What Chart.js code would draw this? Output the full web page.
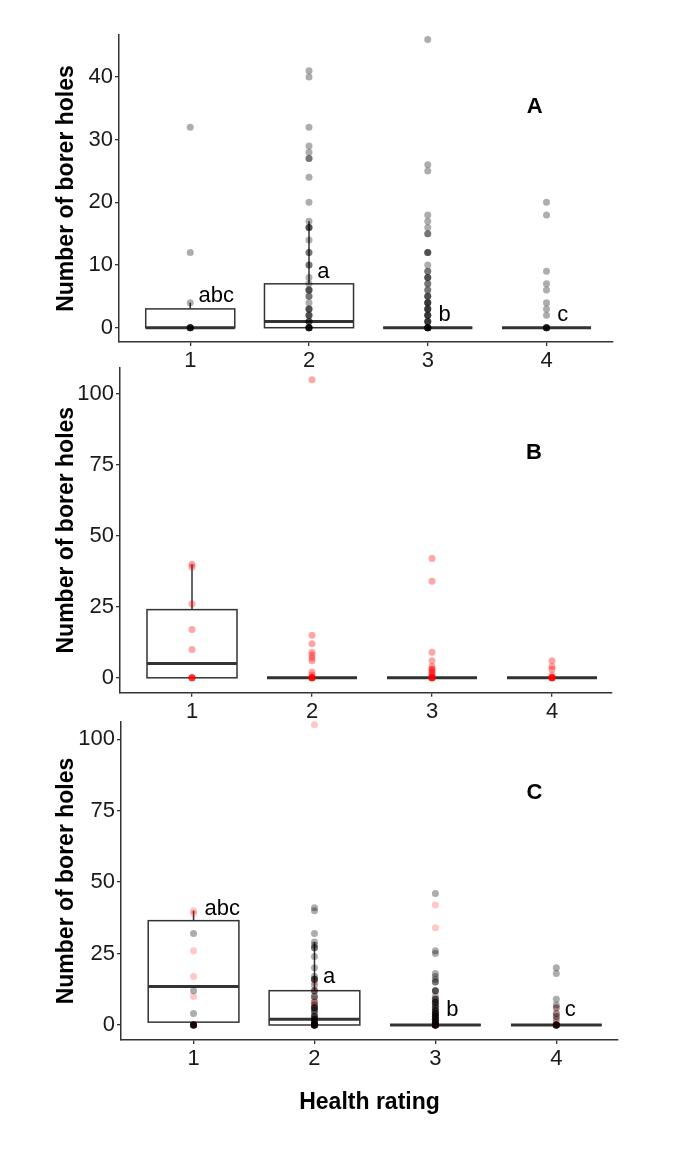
<!DOCTYPE html>
<html>
<head>
<meta charset="utf-8">
<script src="https://cdn.jsdelivr.net/npm/chart.js@4.4.1/dist/chart.umd.min.js"></script>
<style>
html,body{margin:0;padding:0;background:#fff;}
body{width:685px;height:1153px;position:relative;overflow:hidden;}
canvas{position:absolute;left:0;}
</style>
</head>
<body>
<canvas id="cA" width="685" height="380" style="top:0px"></canvas>
<canvas id="cB" width="685" height="380" style="top:340px"></canvas>
<canvas id="cC" width="685" height="453" style="top:700px"></canvas>
<script>
// health rating categories + tick labels
const ratings = [1, 2, 3, 4];
const ticksA = [0, 10, 20, 30, 40];
const ticksBC = [0, 25, 50, 75, 100];

// panel A - borer holes (grey points), one list per rating
const greyR1 = [32, 12, 4, 0, 0, 0, 0, 0, 0];
const greyR2 = [41, 40, 32, 29, 28, 27, 27, 24, 20, 17, 16, 16, 16, 14, 12, 12, 10, 10, 8, 7, 6, 6, 6, 5, 5, 4, 3, 3, 3, 2, 2, 2, 1, 1, 1, 0, 0, 0, 0, 0, 0, 0];
const greyR3 = [46, 26, 25, 18, 17, 16, 15, 15, 12, 12, 12, 10, 9, 9, 8, 8, 8, 7, 7, 6, 6, 5, 5, 5, 4, 4, 4, 4, 3, 3, 3, 3, 2, 2, 2, 2, 1, 1, 1, 1, 0, 0, 0, 0, 0, 0, 0, 0];
const greyR4 = [20, 18, 9, 7, 6, 4, 3, 2, 0, 0, 0, 0, 0, 0];

// panel B - borer holes (red points)
const redR1 = [40, 39, 26, 17, 10, 0, 0, 0, 0];
const redR2 = [105, 15, 12, 9, 8, 7, 6, 2, 1, 0, 0, 0, 0, 0, 0];
const redR3 = [42, 34, 9, 6, 4, 3, 3, 2, 2, 1, 1, 0, 0, 0, 0, 0, 0];
const redR4 = [6, 4, 3, 1, 0, 0, 0, 0, 0, 0];

// box stats per rating: lower whisker, q1, median, q3, upper whisker
const loA = [0, 0, 0, 0], q1A = [0, 0, 0, 0], medA = [0, 1, 0, 0], q3A = [3, 7, 0, 0], hiA = [4, 17, 0, 0];
const loB = [0, 0, 0, 0], q1B = [0, 0, 0, 0], medB = [5, 0, 0, 0], q3B = [24, 0, 0, 0], hiB = [40, 0, 0, 0];
const loC = [0, 0, 0, 0], q1C = [1, 0, 0, 0], medC = [13.5, 2, 0, 0], q3C = [36.5, 12, 0, 0], hiC = [40, 29, 0, 0];

// significance letters
const sigLetters = ["abc", "a", "b", "c"];

const FONT = "'Liberation Sans', Arial, Helvetica, sans-serif";
Chart.defaults.font.family = FONT;
Chart.defaults.animation = false;

function pts(lists) {
  let out = [];
  lists.forEach((l, i) => l.forEach(v => out.push({x: ratings[i], y: v})));
  return out;
}

function boxPlugin(lo, q1, med, q3, hi) {
  return {
    id: 'boxes',
    beforeDatasetsDraw(chart) {
      const ctx = chart.ctx, x = chart.scales.x, y = chart.scales.y;
      ctx.save();
      ctx.strokeStyle = '#333';
      ratings.forEach((r, i) => {
        const xl = x.getPixelForValue(r - 0.375), xr = x.getPixelForValue(r + 0.375), xc = x.getPixelForValue(r);
        ctx.lineWidth = 1.5;
        ctx.beginPath();
        ctx.moveTo(xc, y.getPixelForValue(q3[i])); ctx.lineTo(xc, y.getPixelForValue(hi[i]));
        ctx.moveTo(xc, y.getPixelForValue(q1[i])); ctx.lineTo(xc, y.getPixelForValue(lo[i]));
        ctx.stroke();
        const yt = y.getPixelForValue(q3[i]), yb = y.getPixelForValue(q1[i]);
        ctx.fillStyle = '#fff';
        ctx.fillRect(xl, yt, xr - xl, yb - yt);
        ctx.strokeRect(xl, yt, xr - xl, yb - yt);
        ctx.lineWidth = 3;
        ctx.beginPath();
        const ym = y.getPixelForValue(med[i]);
        ctx.moveTo(xl, ym); ctx.lineTo(xr, ym);
        ctx.stroke();
      });
      ctx.restore();
    }
  };
}

function textPlugin(items) {
  return {
    id: 'texts',
    afterDatasetsDraw(chart) {
      const ctx = chart.ctx, x = chart.scales.x, y = chart.scales.y;
      ctx.save();
      ctx.fillStyle = '#000';
      ctx.textBaseline = 'middle';
      items.forEach(it => {
        ctx.font = (it.bold ? 'bold ' : '') + '22px ' + FONT;
        ctx.textAlign = it.align || 'left';
        ctx.fillText(it.t, x.getPixelForValue(it.x), y.getPixelForValue(it.y));
      });
      ctx.restore();
    }
  };
}

function panel(id, cfg) {
  const axisCol = '#333';
  return new Chart(document.getElementById(id), {
    type: 'scatter',
    data: {datasets: cfg.datasets},
    options: {
      responsive: false,
      events: [],
      layout: {padding: cfg.pad},
      plugins: {legend: {display: false}, tooltip: {enabled: false}},
      scales: {
        x: {
          type: 'linear', min: cfg.xMin, max: cfg.xMax,
          afterBuildTicks: s => { s.ticks = ratings.map(v => ({value: v})); },
          afterFit: s => { s.height = cfg.xH; },
          grid: {drawOnChartArea: false, tickLength: 4, color: axisCol, lineWidth: 1.3},
          border: {color: axisCol, width: 1.5},
          ticks: {padding: 2, color: '#1a1a1a', font: {size: 22}, callback: v => String(v)},
          title: {display: !!cfg.xTitle, text: cfg.xTitle || '', color: '#000', font: {size: 23, weight: 'bold'}, padding: 0}
        },
        y: {
          min: cfg.yMin, max: cfg.yMax,
          afterBuildTicks: s => { s.ticks = cfg.yTicks.map(v => ({value: v})); },
          afterFit: s => { s.width = cfg.yW; },
          grid: {drawOnChartArea: false, tickLength: 4, color: axisCol, lineWidth: 1.3},
          border: {color: axisCol, width: 1.5},
          ticks: {padding: 2, color: '#1a1a1a', font: {size: 22}, callback: v => String(v)},
          title: {display: true, text: 'Number of borer holes', color: '#000', font: {size: 23, weight: 'bold'}, padding: 0}
        }
      }
    },
    plugins: [boxPlugin(cfg.lo, cfg.q1, cfg.med, cfg.q3, cfg.hi), textPlugin(cfg.texts)]
  });
}

function ds(data, color, order) {
  return {data: data, backgroundColor: color, pointRadius: 3.5, pointHoverRadius: 3.5, pointBorderWidth: 0, clip: false, order: order};
}

const grey = 'rgba(0,0,0,0.32)', red = 'rgba(255,0,0,0.35)', pink = 'rgba(255,0,0,0.22)';

panel('cA', {
  datasets: [ds(pts([greyR1, greyR2, greyR3, greyR4]), grey, 1)],
  pad: {top: 35, left: 53, right: 72, bottom: 0},
  xMin: 0.4, xMax: 4.56, xH: 38, yW: 66,
  yMin: -2.28, yMax: 46.7, yTicks: ticksA,
  lo: loA, q1: q1A, med: medA, q3: q3A, hi: hiA,
  texts: [
    {t: sigLetters[0], x: 1.07, y: 5.1}, {t: sigLetters[1], x: 2.07, y: 8.85},
    {t: sigLetters[2], x: 3.09, y: 2.0}, {t: sigLetters[3], x: 4.09, y: 2.0},
    {t: 'A', x: 3.9, y: 35.3, bold: true, align: 'center'}
  ]
});

panel('cB', {
  datasets: [ds(pts([redR1, redR2, redR3, redR4]), red, 1)],
  pad: {top: 27.7, left: 53, right: 73, bottom: 0},
  xMin: 0.4, xMax: 4.5, xH: 27.3, yW: 67,
  yMin: -5.25, yMax: 109.2, yTicks: ticksBC,
  lo: loB, q1: q1B, med: medB, q3: q3B, hi: hiB,
  texts: [{t: 'B', x: 3.85, y: 79.2, bold: true, align: 'center'}]
});

panel('cC', {
  datasets: [ds(pts([greyR1, greyR2, greyR3, greyR4]), grey, 0), ds(pts([redR1, redR2, redR3, redR4]), pink, 1)],
  pad: {top: 22, left: 53, right: 67, bottom: 36.2},
  xMin: 0.4, xMax: 4.51, xH: 76.8, yW: 68,
  yMin: -5.25, yMax: 106, yTicks: ticksBC, xTitle: 'Health rating',
  lo: loC, q1: q1C, med: medC, q3: q3C, hi: hiC,
  texts: [
    {t: sigLetters[0], x: 1.09, y: 40.7}, {t: sigLetters[1], x: 2.07, y: 16.9},
    {t: sigLetters[2], x: 3.09, y: 5.25}, {t: sigLetters[3], x: 4.07, y: 5.25},
    {t: 'C', x: 3.82, y: 81.1, bold: true, align: 'center'}
  ]
});
</script>
</body>
</html>
